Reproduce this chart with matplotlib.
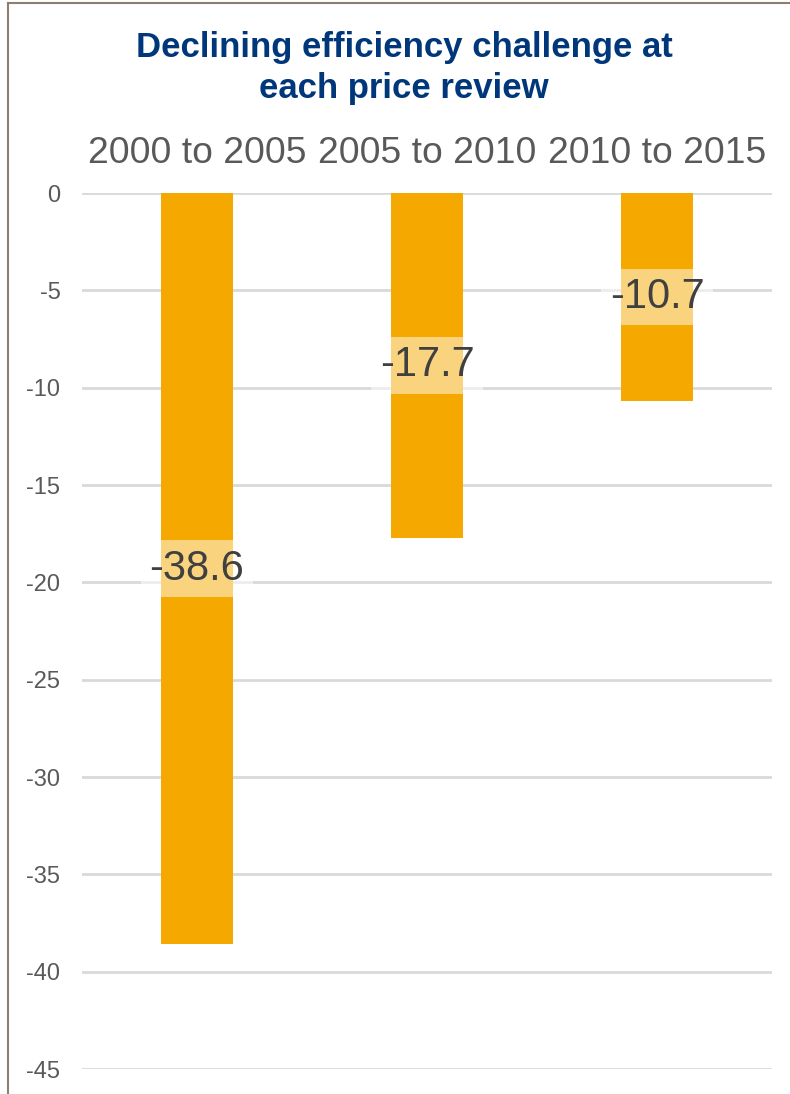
import matplotlib
matplotlib.use("Agg")
import matplotlib.pyplot as plt
from matplotlib.lines import Line2D

# Chart data
periods = ["2000 to 2005", "2005 to 2010", "2010 to 2015"]
challenge = [-38.6, -17.7, -10.7]
yticks = [0, -5, -10, -15, -20, -25, -30, -35, -40, -45]

plt.rcParams['font.family'] = ['Liberation Sans', 'DejaVu Sans']

W, H = 790, 1094
fig = plt.figure(figsize=(W / 100, H / 100), dpi=100)
ax = fig.add_axes([82 / W, 25 / H, 690 / W, 876 / H])

x = list(range(len(periods)))
ax.bar(x, challenge, width=0.313, color='#F5A800', zorder=2)

# Data labels in the middle of each bar
for i, v in enumerate(challenge):
    ax.text(i, v / 2, f"{v:.1f}", ha='center', va='center', fontsize=30,
            color='#404040', zorder=3,
            bbox=dict(boxstyle='square,pad=0.2', facecolor='white',
                      edgecolor='none', alpha=0.5))

ax.set_xlim(-0.5, 2.5)
ax.set_ylim(-45, 0)
ax.set_yticks(yticks)
ax.set_yticklabels([str(t) for t in yticks])
ax.yaxis.grid(True, color='#D9D9D9', linewidth=2, zorder=0)
ax.set_axisbelow(True)

ax.xaxis.tick_top()
ax.set_xticks(x)
ax.set_xticklabels(periods)
ax.tick_params(axis='x', length=0, pad=15.5, labelsize=26.8, labelcolor='#595959')
ax.tick_params(axis='y', length=0, pad=15.5, labelsize=17, labelcolor='#595959')
for s in ax.spines.values():
    s.set_visible(False)

fig.text(404 / W, 1 - 68 / H, "Declining efficiency challenge at\neach price review",
         ha='center', va='center', fontsize=25, fontweight='bold',
         color='#00367A', linespacing=1.3)

# Outer frame (left and top edges visible)
fig.add_artist(Line2D([8 / W, 8 / W], [0, 1 - 3 / H], transform=fig.transFigure,
                      color='#8C7E70', linewidth=1.5))
fig.add_artist(Line2D([8 / W, 1], [1 - 3 / H, 1 - 3 / H], transform=fig.transFigure,
                      color='#8C7E70', linewidth=1.5))

fig.savefig('out.png', dpi=100)
